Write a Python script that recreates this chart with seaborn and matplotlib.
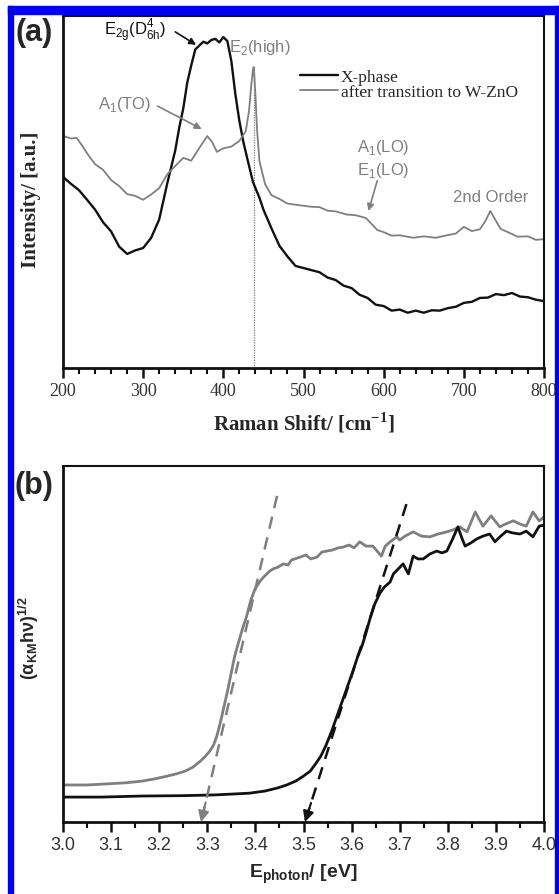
import matplotlib.pyplot as plt
import seaborn as sns
from matplotlib.patches import Rectangle
from matplotlib.ticker import MultipleLocator

# ---- panel (a): Raman spectra ----
raman_x_black = [200, 210, 220, 230, 240, 250, 260, 270, 280, 290, 300, 310, 320, 330,
                 340, 345, 350, 355, 360, 365, 370, 375, 380, 385, 390, 395, 400, 405,
                 410, 415, 420, 425, 430, 437, 445, 450, 460, 470, 480, 490, 500, 510,
                 520, 530, 540, 550, 560, 570, 580, 590, 600, 610, 620, 630, 640, 650,
                 660, 670, 680, 690, 700, 710, 720, 730, 740, 750, 760, 770, 780, 790, 800]
raman_y_black = [0.543, 0.523, 0.505, 0.478, 0.450, 0.414, 0.388, 0.345, 0.324, 0.334,
                 0.341, 0.370, 0.422, 0.524, 0.618, 0.683, 0.737, 0.811, 0.860, 0.905,
                 0.916, 0.927, 0.922, 0.932, 0.935, 0.925, 0.940, 0.929, 0.872, 0.778,
                 0.702, 0.642, 0.594, 0.528, 0.484, 0.450, 0.397, 0.347, 0.317, 0.290,
                 0.284, 0.278, 0.272, 0.257, 0.250, 0.234, 0.227, 0.208, 0.199, 0.180,
                 0.176, 0.163, 0.166, 0.157, 0.163, 0.157, 0.164, 0.163, 0.170, 0.174,
                 0.185, 0.188, 0.199, 0.200, 0.210, 0.207, 0.213, 0.203, 0.201, 0.194, 0.190]

raman_x_gray = [200, 210, 217, 225, 230, 240, 250, 260, 270, 280, 290, 300, 310, 320,
                330, 340, 350, 360, 370, 380, 386, 392, 400, 410, 420, 428, 432, 435,
                437, 438, 440, 442, 445, 452, 460, 471, 480, 496, 510, 520, 530, 540,
                554, 565, 578, 585, 592, 600, 610, 620, 637, 650, 665, 679, 690, 700,
                710, 720, 727, 733, 740, 746, 755, 767, 780, 790, 800]
raman_y_gray = [0.659, 0.652, 0.654, 0.628, 0.610, 0.579, 0.563, 0.534, 0.517, 0.494,
                0.489, 0.478, 0.493, 0.511, 0.550, 0.574, 0.597, 0.589, 0.625, 0.659,
                0.642, 0.614, 0.624, 0.629, 0.645, 0.673, 0.730, 0.807, 0.849, 0.855,
                0.778, 0.679, 0.588, 0.523, 0.491, 0.479, 0.467, 0.462, 0.458, 0.457,
                0.447, 0.445, 0.436, 0.434, 0.426, 0.409, 0.392, 0.386, 0.376, 0.377,
                0.370, 0.374, 0.370, 0.377, 0.382, 0.401, 0.389, 0.394, 0.418, 0.446,
                0.418, 0.395, 0.386, 0.373, 0.374, 0.364, 0.366]

e2_high_pos = 438
e2_high_top = 0.855
raman_ticks = [200, 300, 400, 500, 600, 700, 800]

# ---- panel (b): Kubelka-Munk plot ----
km_x_gray = [3.00, 3.05, 3.09, 3.13, 3.165, 3.19, 3.217, 3.235, 3.254, 3.27, 3.284,
             3.295, 3.305, 3.313, 3.32, 3.328, 3.335, 3.343, 3.35, 3.357, 3.364, 3.373,
             3.382, 3.39, 3.399, 3.41, 3.417, 3.424, 3.43, 3.437, 3.447, 3.458, 3.468,
             3.475, 3.493, 3.505, 3.515, 3.528, 3.538, 3.548, 3.56, 3.572, 3.582, 3.595,
             3.605, 3.617, 3.63, 3.644, 3.653, 3.662, 3.67, 3.68, 3.694, 3.70, 3.711,
             3.728, 3.745, 3.763, 3.78, 3.798, 3.81, 3.825, 3.84, 3.857, 3.873, 3.89,
             3.908, 3.92, 3.936, 3.95, 3.963, 3.977, 3.99, 4.00]
km_y_gray = [0.104, 0.104, 0.107, 0.110, 0.115, 0.121, 0.129, 0.135, 0.143, 0.154, 0.169,
             0.183, 0.199, 0.216, 0.242, 0.284, 0.326, 0.374, 0.421, 0.466, 0.500, 0.542,
             0.579, 0.621, 0.654, 0.677, 0.688, 0.697, 0.705, 0.711, 0.716, 0.725, 0.722,
             0.736, 0.744, 0.750, 0.739, 0.744, 0.758, 0.761, 0.764, 0.770, 0.772, 0.778,
             0.770, 0.787, 0.775, 0.775, 0.761, 0.747, 0.775, 0.787, 0.801, 0.792, 0.803,
             0.815, 0.803, 0.801, 0.809, 0.815, 0.820, 0.829, 0.815, 0.871, 0.831, 0.860,
             0.829, 0.837, 0.846, 0.837, 0.831, 0.871, 0.846, 0.857]

km_x_black = [3.00, 3.08, 3.165, 3.25, 3.314, 3.36, 3.388, 3.42, 3.447, 3.465, 3.484,
              3.50, 3.514, 3.525, 3.536, 3.547, 3.558, 3.569, 3.58, 3.591, 3.602, 3.613,
              3.621, 3.63, 3.638, 3.648, 3.659, 3.668, 3.68, 3.687, 3.697, 3.707, 3.718,
              3.728, 3.738, 3.749, 3.763, 3.777, 3.788, 3.798, 3.81, 3.821, 3.83, 3.836,
              3.848, 3.86, 3.873, 3.887, 3.898, 3.91, 3.922, 3.935, 3.95, 3.963, 3.977,
              3.99, 4.00]
km_y_black = [0.070, 0.070, 0.073, 0.074, 0.076, 0.079, 0.081, 0.087, 0.096, 0.104, 0.115,
              0.129, 0.143, 0.163, 0.185, 0.216, 0.253, 0.295, 0.337, 0.379, 0.421, 0.466,
              0.492, 0.531, 0.570, 0.612, 0.643, 0.660, 0.674, 0.697, 0.711, 0.725, 0.697,
              0.747, 0.739, 0.739, 0.753, 0.761, 0.756, 0.761, 0.795, 0.829, 0.795, 0.775,
              0.784, 0.795, 0.803, 0.809, 0.787, 0.803, 0.817, 0.812, 0.809, 0.817, 0.801,
              0.831, 0.834]

# linear extrapolations to the band gap
tangent_x_gray = [3.445, 3.287]
tangent_y_gray = [0.916, 0.0]
tangent_x_black = [3.714, 3.503]
tangent_y_black = [0.893, 0.0]
km_ticks = [3.0, 3.1, 3.2, 3.3, 3.4, 3.5, 3.6, 3.7, 3.8, 3.9, 4.0]

sns.set_theme(style="white")
plt.rcParams['font.family'] = ['Liberation Sans', 'DejaVu Sans']

SERIF = 'Liberation Serif'
GRAY = '#7f7f7f'
BLACK = '#111111'

fig = plt.figure(figsize=(5.59, 8.95), dpi=100)
ax_a = fig.add_axes([63 / 559, 1 - 369 / 895, 481 / 559, 352 / 895])
ax_b = fig.add_axes([63 / 559, 1 - 823 / 895, 481 / 559, 356 / 895])

# blue frame around the figure
for x0, y0, w, h in [(8, 7, 551, 8), (8, 7, 5, 888), (555, 7, 4, 888)]:
    fig.patches.append(Rectangle((x0 / 559, 1 - (y0 + h) / 895), w / 559, h / 895,
                                 transform=fig.transFigure, color='#0000ee', zorder=10))


def arrow(ax, start, end, color):
    ax.annotate("", xy=end, xytext=start,
                arrowprops=dict(arrowstyle='-|>', color=color, lw=1.2, shrinkA=0, shrinkB=0,
                                mutation_scale=10))


# ---------- panel (a) ----------
ax = ax_a
ax.vlines(e2_high_pos, 0, e2_high_top, colors=GRAY, linestyles=(0, (1, 1)), lw=0.9)
sns.lineplot(x=raman_x_black, y=raman_y_black, ax=ax, color=BLACK, lw=1.7, label="X-phase")
sns.lineplot(x=raman_x_gray, y=raman_y_gray, ax=ax, color=GRAY, lw=1.3,
             label="after transition to W-ZnO")
ax.set_xlim(200, 800)
ax.set_ylim(0, 1)
ax.set_yticks([])
ax.set_xticks(raman_ticks)
ax.set_xticklabels([str(t) for t in raman_ticks], fontfamily=SERIF, fontsize=13, color='#333333')
ax.xaxis.set_minor_locator(MultipleLocator(20))
ax.set_xlabel(r"Raman Shift/ [cm$^\mathregular{-1}$]", fontfamily=SERIF, fontweight='bold',
              fontsize=15, labelpad=8)
ax.set_ylabel("Intensity/ [a.u.]", fontfamily=SERIF, fontweight='bold', fontsize=15)
ax.yaxis.set_label_coords(-0.045, 0.48)
ax.legend(loc='upper left', bbox_to_anchor=(0.493, 0.85), frameon=False,
          prop={'family': SERIF, 'size': 12.5}, handlelength=2.2, handletextpad=0.15,
          labelspacing=-0.05, borderpad=0, borderaxespad=0)

ax.text(290, 0.962, r"E$_\mathregular{2g}$(D$^\mathregular{4}_\mathregular{6h}$)",
        ha='center', va='center', fontsize=12, color=BLACK)
arrow(ax, (340, 0.955), (366, 0.918), BLACK)
ax.text(445, 0.912, r"E$_\mathregular{2}$(high)", ha='center', va='center', fontsize=12, color=GRAY)
ax.text(277, 0.75, r"A$_\mathregular{1}$(TO)", ha='center', va='center', fontsize=12, color=GRAY)
arrow(ax, (318, 0.744), (373, 0.679), GRAY)
ax.text(600, 0.628, r"A$_\mathregular{1}$(LO)", ha='center', va='center', fontsize=12, color=GRAY)
ax.text(600, 0.565, r"E$_\mathregular{1}$(LO)", ha='center', va='center', fontsize=12, color=GRAY)
arrow(ax, (592, 0.532), (581, 0.446), GRAY)
ax.text(733, 0.486, "2nd Order", ha='center', va='center', fontsize=12, color=GRAY)

# ---------- panel (b) ----------
ax = ax_b
sns.lineplot(x=km_x_gray, y=km_y_gray, ax=ax, color=GRAY, lw=2.0)
sns.lineplot(x=km_x_black, y=km_y_black, ax=ax, color=BLACK, lw=2.0)
for tx, ty, c in [(tangent_x_gray, tangent_y_gray, GRAY), (tangent_x_black, tangent_y_black, BLACK)]:
    ax.plot(tx, ty, color=c, lw=1.8, ls=(0, (5, 3.5)), zorder=3)
    ax.annotate("", xy=(tx[1], ty[1]),
                xytext=(tx[1] + 0.06 * (tx[0] - tx[1]), ty[1] + 0.06 * (ty[0] - ty[1])),
                arrowprops=dict(arrowstyle='-|>', color=c, lw=1.5, shrinkA=0, shrinkB=0,
                                mutation_scale=16))
ax.set_xlim(3.0, 4.0)
ax.set_ylim(0, 1)
ax.set_yticks([])
ax.set_xticks(km_ticks)
ax.set_xticklabels([f"{t:.1f}" for t in km_ticks], fontsize=13, color='#333333')
ax.xaxis.set_minor_locator(MultipleLocator(0.05))
ax.set_xlabel(r"E$_\mathregular{photon}$/ [eV]", fontweight='bold', fontsize=14, labelpad=6)
ax.set_ylabel("(α$_\mathregular{KM}$hν)$^\mathregular{1/2}$", fontweight='bold', fontsize=13)
ax.yaxis.set_label_coords(-0.045, 0.52)

for ax in (ax_a, ax_b):
    for side, sp in ax.spines.items():
        sp.set_color(BLACK)
        sp.set_linewidth(2.0 if side in ('left', 'bottom') else 1.5)
    ax.tick_params(axis='x', which='major', direction='out', length=7, width=1.8,
                   color=BLACK, pad=3, bottom=True)
    ax.tick_params(axis='x', which='minor', direction='out', length=4, width=1.5,
                   color=BLACK, bottom=True)

fig.text(34 / 559, 1 - 33 / 895, "(a)", fontsize=22, fontweight='bold', ha='center', va='center')
fig.text(34 / 559, 1 - 486 / 895, "(b)", fontsize=22, fontweight='bold', ha='center', va='center')

fig.savefig("out.png", dpi=100, facecolor='white')
